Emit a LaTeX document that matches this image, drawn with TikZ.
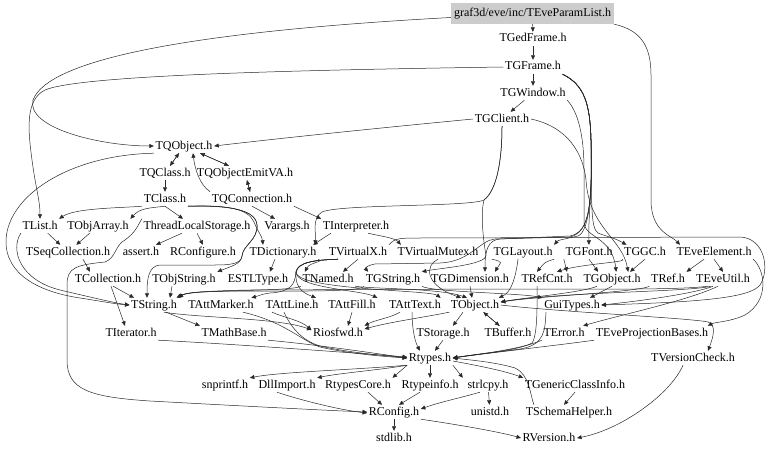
\documentclass[tikz,border=0pt]{standalone}
\usepackage{fontspec}
\setmainfont{Liberation Serif}
\usetikzlibrary{arrows.meta}
\definecolor{rootgray}{RGB}{204,204,204}
\definecolor{edgecol}{RGB}{40,40,40}
\tikzset{
 nd/.style={font=\fontsize{12}{14}\selectfont, inner sep=1.5pt, text height=8.5pt, text depth=2.5pt},
 ed/.style={draw=edgecol, line width=0.5pt, -{Triangle[length=4.5pt,width=4pt]}},
}
\begin{document}
\begin{tikzpicture}[x=1pt,y=-1pt]
\useasboundingbox (0,0) rectangle (768,452);
% nodes
\node[nd, fill=rootgray, minimum width=163pt, minimum height=21pt] (root) at (532.5,13.5) {graf3d/eve/inc/TEveParamList.h};
\node[nd] (gedframe) at (533,39) {TGedFrame.h};
\node[nd] (gframe) at (533,67) {TGFrame.h};
\node[nd] (gwindow) at (533,93) {TGWindow.h};
\node[nd] (gclient) at (502,119) {TGClient.h};
\node[nd] (qobject) at (184,146) {TQObject.h};
\node[nd] (qclass) at (165,173) {TQClass.h};
\node[nd] (qemit) at (245,173) {TQObjectEmitVA.h};
\node[nd] (tclass) at (165,199) {TClass.h};
\node[nd] (qconn) at (252,199) {TQConnection.h};
\node[nd] (tlist) at (40,226) {TList.h};
\node[nd] (objarray) at (98,226) {TObjArray.h};
\node[nd] (tls) at (197,226) {ThreadLocalStorage.h};
\node[nd] (varargs) at (287,226) {Varargs.h};
\node[nd] (interp) at (356,226) {TInterpreter.h};
\node[nd] (seqcoll) at (68,252) {TSeqCollection.h};
\node[nd] (assertn) at (141,252) {assert.h};
\node[nd] (rconfigure) at (203,252) {RConfigure.h};
\node[nd] (dict) at (283,252) {TDictionary.h};
\node[nd] (vx) at (358,252) {TVirtualX.h};
\node[nd] (vmutex) at (438,252) {TVirtualMutex.h};
\node[nd] (glayout) at (523,252) {TGLayout.h};
\node[nd] (gfont) at (589,252) {TGFont.h};
\node[nd] (ggc) at (645,252) {TGGC.h};
\node[nd] (eveel) at (714,252) {TEveElement.h};
\node[nd] (coll) at (108,279) {TCollection.h};
\node[nd] (objstring) at (184,279) {TObjString.h};
\node[nd] (estl) at (258,279) {ESTLType.h};
\node[nd] (named) at (328,279) {TNamed.h};
\node[nd] (gstring) at (393,279) {TGString.h};
\node[nd] (gdim) at (470,279) {TGDimension.h};
\node[nd] (refcnt) at (547,279) {TRefCnt.h};
\node[nd] (gobject) at (612,279) {TGObject.h};
\node[nd] (tref) at (668,279) {TRef.h};
\node[nd] (eveutil) at (723,279) {TEveUtil.h};
\node[nd] (tstring) at (154,305) {TString.h};
\node[nd] (attmarker) at (221,305) {TAttMarker.h};
\node[nd] (attline) at (292,305) {TAttLine.h};
\node[nd] (attfill) at (352,305) {TAttFill.h};
\node[nd] (atttext) at (415,305) {TAttText.h};
\node[nd] (tobject) at (475,305) {TObject.h};
\node[nd] (guitypes) at (572,305) {GuiTypes.h};
\node[nd] (iterator) at (131,333) {TIterator.h};
\node[nd] (mathbase) at (234,333) {TMathBase.h};
\node[nd] (riosfwd) at (338,333) {Riosfwd.h};
\node[nd] (storage) at (443,333) {TStorage.h};
\node[nd] (buffer) at (508,333) {TBuffer.h};
\node[nd] (terror) at (564,333) {TError.h};
\node[nd] (projbases) at (652,333) {TEveProjectionBases.h};
\node[nd] (rtypes) at (430,358) {Rtypes.h};
\node[nd] (vcheck) at (693,358) {TVersionCheck.h};
\node[nd] (snprintf) at (225,385) {snprintf.h};
\node[nd] (dllimport) at (287,385) {DllImport.h};
\node[nd] (rtypescore) at (358,385) {RtypesCore.h};
\node[nd] (rtypeinfo) at (430,385) {Rtypeinfo.h};
\node[nd] (strlcpy) at (488,385) {strlcpy.h};
\node[nd] (genclass) at (575,385) {TGenericClassInfo.h};
\node[nd] (rconfig) at (394,412) {RConfig.h};
\node[nd] (unistd) at (490,412) {unistd.h};
\node[nd] (schema) at (569,412) {TSchemaHelper.h};
\node[nd] (stdlib) at (394,438) {stdlib.h};
\node[nd] (rversion) at (549,438) {RVersion.h};
% top chain
\draw[ed] (root) -- (gedframe);
\draw[ed] (gedframe) -- (gframe);
\draw[ed] (gframe) -- (gwindow);
\draw[ed] (gwindow) -- (gclient);
\draw[ed] ([yshift=-4pt]root.west) .. controls (220,30) and (50,55) .. (33,100) .. controls (26,128) and (100,146) .. (qobject.west);
\draw[ed] (gframe.west) .. controls (300,70) and (80,75) .. (45,90) .. controls (25,100) and (28,130) .. (32,160) .. controls (36,190) and (40,200) .. (tlist.north);
\draw[ed] (gclient.west) .. controls (400,126) and (300,136) .. (qobject.east);
\draw[ed] (root.south east) .. controls (640,30) and (651,45) .. (651,75) -- (651,200) .. controls (651,232) and (672,236) .. ([xshift=-34pt]eveel.north);
\draw[ed] (gframe.south east) .. controls (585,85) and (590,105) .. (591,140) .. controls (593,185) and (588,215) .. (gfont.north);
\draw[ed] (gframe.south east) .. controls (585,85) and (590,105) .. (591,140) .. controls (593,200) and (588,232) .. (578,236) .. controls (570,238) and (558,240) .. (glayout.north east);
\draw[ed] (gframe.south east) .. controls (585,85) and (590,105) .. (591,140) .. controls (592,200) and (590,228) .. (598,233) .. controls (605,236) and (615,238) .. ([xshift=4pt]ggc.north west);
\draw[ed] (gwindow.south east) .. controls (578,112) and (584,135) .. (584,170) -- (584,222) .. controls (584,238) and (612,236) .. ([xshift=-26pt]gobject.north east);
\draw[ed] (gclient.east) .. controls (560,125) and (582,145) .. (586,180) .. controls (589,228) and (622,238) .. ([xshift=-14pt]gobject.north east);
\draw[ed] (gframe.south east) .. controls (585,85) and (590,105) .. (591,140) .. controls (592,205) and (590,232) .. (570,236) -- (500,239) .. controls (488,240) and (485,250) .. ([xshift=15pt]gdim.north);
\draw[ed] (gframe.south east) .. controls (585,85) and (590,105) .. (591,140) .. controls (592,205) and (590,232) .. (570,237) -- (495,239) .. controls (480,240) and (470,262) .. (440,263) -- (375,264) .. controls (368,265) and (365,268) .. ([xshift=4pt]gstring.north west);
\draw[ed] (vx.north east) .. controls (395,238) and (400,238) .. (420,238) -- (740,237) .. controls (765,238) and (770,270) .. (760,285) .. controls (750,298) and (700,302) .. (guitypes.east);
\draw[ed] (gclient.south) .. controls (502,160) and (497,190) .. (484,200) .. controls (470,207) and (340,204) .. (322,212) .. controls (312,218) and (316,232) .. ([xshift=-3pt]dict.north east);
\draw[ed] (gclient.south) .. controls (502,160) and (497,190) .. (484,200) .. controls (480,215) and (484,245) .. (486,255) .. controls (487,265) and (440,268) .. (gstring.north east);
% TQ cluster
\draw[ed] (qobject) -- (qclass);
\draw[ed] (qclass) -- (qobject);
\draw[ed] (qobject) -- (qemit);
\draw[ed] (qemit) -- (qobject);
\draw[ed] (qclass) -- (tclass);
\draw[ed] (qemit) -- (qconn);
\draw[ed] (qconn) -- (qemit);
\draw[ed] (qconn.north west) .. controls (200,185) and (195,170) .. ([xshift=9pt]qobject.south);
\draw[ed] (tclass.south west) .. controls (120,208) and (75,208) .. (tlist.north east);
\draw[ed] (tclass.south) .. controls (150,208) and (140,208) .. (objarray.north east);
\draw[ed] (tclass.south) -- ([xshift=-14pt]tls.north);
\draw[ed] (tclass.south east) .. controls (225,205) and (248,208) .. (254,222) .. controls (258,232) and (262,236) .. ([xshift=-20pt]dict.north);
\draw[ed] (tclass.south east) .. controls (230,205) and (256,210) .. (257,225) .. controls (258,240) and (243,245) .. (242,256) .. controls (241,264) and (232,266) .. (objstring.north east);
\draw[ed] (tclass.south east) .. controls (230,205) and (256,210) .. (257,225) .. controls (258,240) and (243,245) .. (242,256) .. controls (241,264) and (230,265) .. (215,265) -- (160,265) .. controls (148,266) and (147,280) .. ([xshift=-7pt]tstring.north);
\draw[ed] (tls.north west) .. controls (138,225) and (136,232) .. (125,240) .. controls (115,245) and (116,258) .. (105,262) .. controls (75,265) and (67,268) .. (67,285) -- (67,360) .. controls (67,390) and (90,397) .. (150,401) .. controls (260,407) and (340,411) .. (rconfig.west);
\draw[ed] ([xshift=-15pt]tls.south) -- ([xshift=15pt]assertn.north);
\draw[ed] (tls.south) -- (rconfigure.north);
\draw[ed] (qconn.south) -- ([xshift=-12pt]varargs.north);
\draw[ed] (qconn.south east) -- (interp.north west);
\draw[ed] ([xshift=-25pt]interp.south) -- ([xshift=-5pt]dict.north east);
\draw[ed] ([xshift=12pt]interp.south) .. controls (380,236) and (395,238) .. ([xshift=5pt]vmutex.north west);
% collections
\draw[ed] (tlist) -- (seqcoll);
\draw[ed] (objarray) -- (seqcoll);
\draw[ed] ([xshift=15pt]seqcoll.south) -- ([xshift=-18pt]coll.north);
\draw[ed] ([xshift=5pt]coll.south) -- ([xshift=-20pt]tstring.north);
\draw[ed] ([xshift=3pt]coll.south) -- ([xshift=-6pt]iterator.north);
\draw[ed] (tlist.south west) .. controls (10,250) and (20,280) .. (60,290) .. controls (90,297) and (115,303) .. (tstring.west);
\draw[ed] (qobject.south west) .. controls (70,155) and (8,195) .. (6,240) .. controls (5,275) and (40,292) .. (80,298) .. controls (100,301) and (115,304) .. (tstring.west);
\draw[ed] ([xshift=-12pt]objstring.south) -- ([xshift=16pt]tstring.north);
\draw[ed] (dict.south east) .. controls (325,262) and (310,262) .. ([xshift=4pt]named.north west);
\draw[ed] ([xshift=-8pt]dict.south) -- ([xshift=-20pt]estl.north east);
\draw[ed] (vx.south) -- ([xshift=15pt]named.north);
% TVirtualX fan
\draw[ed] ([xshift=-20pt]vx.south) .. controls (315,260) and (298,262) .. (296,272) .. controls (295,285) and (290,292) .. (270,293) .. controls (262,294) and (258,296) .. ([xshift=-4pt]attmarker.north east);
\draw[ed] ([xshift=-20pt]vx.south) .. controls (315,260) and (298,262) .. (296,272) .. controls (295,285) and (300,292) .. ([xshift=-4pt]attline.north east);
\draw[ed] ([xshift=-20pt]vx.south) .. controls (315,260) and (298,262) .. (296,272) .. controls (296,288) and (360,290) .. (attfill.north east);
\draw[ed] ([xshift=-20pt]vx.south) .. controls (315,260) and (298,262) .. (296,272) .. controls (296,290) and (430,290) .. ([xshift=-2pt]atttext.north east);
% bundle into TString / TObject
\draw[ed] (named.south west) .. controls (295,290) and (250,290) .. (200,292) .. controls (185,293) and (182,295) .. (tstring.north east);
\draw[ed] (named.south east) .. controls (370,289) and (440,288) .. ([xshift=-8pt]tobject.north);
\draw[ed] (gstring.south west) .. controls (360,292) and (300,291) .. (250,291) .. controls (200,291) and (185,293) .. ([xshift=-2pt]tstring.north east);
\draw[ed] (gstring.south east) .. controls (430,292) and (520,293) .. (guitypes.north west);
\draw[ed] (gdim.south) -- ([xshift=-3pt]tobject.north);
\draw[ed] (glayout.south west) .. controls (505,262) and (500,263) .. ([xshift=25pt]gdim.north);
\draw[ed] ([xshift=-5pt]glayout.south) .. controls (516,275) and (512,292) .. ([xshift=-2pt]tobject.north east);
\draw[ed] (glayout.south east) .. controls (545,262) .. ([xshift=-10pt]refcnt.north);
\draw[ed] (gfont.south west) -- ([xshift=20pt]refcnt.north);
\draw[ed] (ggc.south west) .. controls (630,262) and (580,264) .. ([xshift=10pt]refcnt.north);
\draw[ed] (gfont.south) -- ([xshift=-14pt]gobject.north);
\draw[ed] (ggc.south) -- ([xshift=18pt]gobject.north);
\draw[ed] ([xshift=-10pt]eveel.south) -- (tref.north east);
\draw[ed] (eveel.south) -- (eveutil.north);
\draw[ed] (eveel.south east) .. controls (765,270) and (770,300) .. (745,315) .. controls (730,322) and (715,322) .. ([xshift=-2pt]projbases.north east);
\draw[ed] ([xshift=-10pt]eveutil.south) .. controls (700,292) and (650,300) .. (guitypes.east);
\draw[ed] ([xshift=-5pt]eveutil.south) .. controls (690,300) and (620,315) .. ([xshift=-3pt]terror.north east);
\draw[ed] ([xshift=-12pt]eveutil.south) .. controls (690,292) and (560,292) .. ([yshift=3pt]tobject.east);
\draw[ed] ([xshift=-15pt]eveutil.south) .. controls (680,290) and (600,289) .. (500,289) -- (250,290) .. controls (200,291) and (185,293) .. (tstring.north east);
\draw[ed] (tref.south west) .. controls (640,292) and (540,296) .. ([yshift=3pt]tobject.east);
\draw[ed] ([xshift=-15pt]gobject.south) .. controls (585,292) and (530,297) .. ([yshift=3pt]tobject.east);
\draw[ed] (gobject.south) -- ([xshift=18pt]guitypes.north);
\draw[ed] (vmutex.south) .. controls (425,265) and (424,285) .. ([xshift=-14pt]tobject.north);
% TObject / TString row outgoing
\draw[ed] (tobject.south west) .. controls (420,318) and (390,322) .. ([yshift=4pt]riosfwd.east);
\draw[ed] ([xshift=-12pt]tobject.south) -- ([xshift=10pt]storage.north);
\draw[ed] (tobject) -- (buffer);
\draw[ed] (buffer) -- (tobject);
\draw[ed] (tobject.east) .. controls (560,312) and (690,318) .. (708,322) .. controls (716,325) and (714,335) .. ([xshift=15pt]vcheck.north);
\draw[ed] ([xshift=10pt]tstring.south) .. controls (200,318) and (280,318) .. ([yshift=3pt]riosfwd.west);
\draw[ed] ([xshift=12pt]tstring.south) -- (mathbase.north west);
\draw[ed] ([xshift=-20pt]attline.south) .. controls (285,318) and (300,320) .. ([yshift=3pt]riosfwd.west);
\draw[ed] (attfill.south) -- ([xshift=10pt]riosfwd.north);
\draw[ed] ([xshift=-15pt]atttext.south) .. controls (390,318) and (375,320) .. (riosfwd.north east);
\draw[ed] ([xshift=-3pt]atttext.south) .. controls (412,325) and (414,340) .. ([xshift=-10pt]rtypes.north);
\draw[ed] ([xshift=-8pt]attline.south) .. controls (290,325) and (300,340) .. (320,346) .. controls (350,353) and (390,356) .. (rtypes.west);
\draw[ed] ([xshift=22pt]attmarker.south) .. controls (285,322) and (300,340) .. (320,347) .. controls (350,354) and (390,357) .. (rtypes.west);
\draw[ed] (iterator.south east) .. controls (250,345) and (380,355) .. ([yshift=1pt]rtypes.west);
\draw[ed] (mathbase.south east) .. controls (320,345) and (380,354) .. (rtypes.west);
\draw[ed] (storage.south) -- ([xshift=5pt]rtypes.north);
\draw[ed] (terror.south west) .. controls (520,350) and (470,355) .. (rtypes.east);
\draw[ed] ([xshift=-26pt]guitypes.south) .. controls (545,330) and (545,345) .. (520,349) .. controls (490,353) and (470,355) .. (rtypes.east);
\draw[ed] ([xshift=-10pt]refcnt.south) .. controls (537,300) and (538,335) .. (532,343) .. controls (520,350) and (480,354) .. (rtypes.east);
\draw[ed] (projbases.south west) .. controls (560,345) and (480,354) .. (rtypes.east);
\draw[ed] ([xshift=-35pt]schema.north) .. controls (530,395) and (530,375) .. (515,368) .. controls (495,362) and (470,360) .. (rtypes.east);
\draw[ed] ([yshift=-3pt]rtypes.east) .. controls (480,366) and (505,371) .. (genclass.north west);
\draw[ed] (genclass.south) -- ([xshift=-5pt]schema.north);
% bottom
\draw[ed] (rtypes.south west) .. controls (350,370) and (280,372) .. (snprintf.north east);
\draw[ed] (rtypes.south west) .. controls (380,370) and (340,373) .. (dllimport.north east);
\draw[ed] (rtypes.south west) -- (rtypescore.north east);
\draw[ed] (rtypes) -- (rtypeinfo);
\draw[ed] (rtypes.south east) -- ([xshift=-3pt]strlcpy.north west);
\draw[ed] ([xshift=10pt]rtypescore.south) -- ([xshift=-12pt]rconfig.north);
\draw[ed] ([xshift=-10pt]rtypeinfo.south) -- ([xshift=5pt]rconfig.north);
\draw[ed] ([xshift=-8pt]strlcpy.south) .. controls (460,398) and (440,402) .. ([yshift=3pt]rconfig.east);
\draw[ed] (strlcpy) -- (unistd);
\draw[ed] ([xshift=-10pt]dllimport.south) .. controls (300,400) and (340,410) .. ([yshift=-1pt]rconfig.west);
\draw[ed] (rconfig) -- (stdlib);
\draw[ed] (rconfig.south east) .. controls (460,425) and (500,432) .. (rversion.west);
\draw[ed] ([xshift=-10pt]vcheck.south) .. controls (670,395) and (620,430) .. (rversion.east);
\end{tikzpicture}
\end{document}
